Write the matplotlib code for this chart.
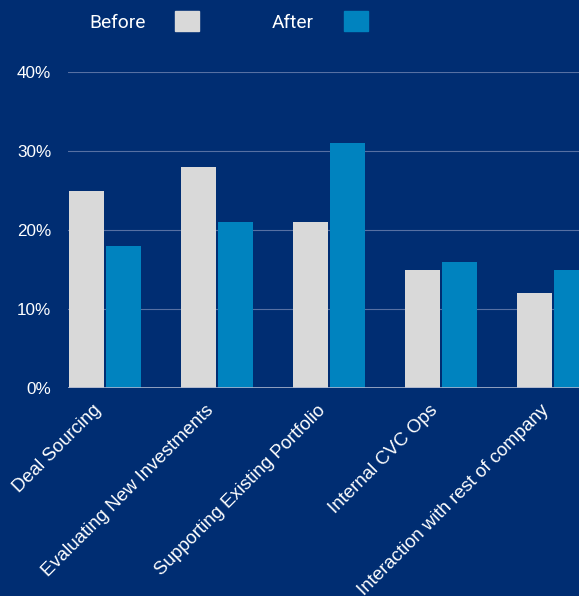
import numpy as np
import matplotlib

matplotlib.use("Agg")
import matplotlib.pyplot as plt
from matplotlib.patches import Patch

categories = ["Deal Sourcing", "Evaluating New Investments", "Supporting Existing Portfolio",
              "Internal CVC Ops", "Interaction with rest of company"]
before = [25, 28, 21, 15, 12]
after = [18, 21, 31, 16, 15]
y_ticks = [0, 10, 20, 30, 40]

bg = "#002D72"
gray = "#D9D9D9"
blue = "#0083BF"

fig = plt.figure(figsize=(5.79, 5.96), dpi=100, facecolor=bg)
# axes run past the right edge of the figure, like the reference
ax = fig.add_axes([68 / 579, 208 / 596, 560 / 579, 316 / 596], facecolor=bg)

x = np.arange(len(categories))
ax.bar(x - 0.49, before, width=0.315, align="edge", color=gray, zorder=3)
ax.bar(x - 0.16, after, width=0.315, align="edge", color=blue, zorder=3)

ax.set_xlim(-0.5, len(categories) - 0.5)
ax.set_ylim(0, 40)
ax.set_yticks(y_ticks)
ax.set_yticklabels([f"{v}%" for v in y_ticks], family="Liberation Sans", fontsize=12.3, color="white")
ax.grid(axis="y", color="#5670A3", linewidth=0.8, zorder=0)
ax.axhline(0, color="#A9B3CC", linewidth=1.2, zorder=4)
for s in ax.spines.values():
    s.set_visible(False)
ax.tick_params(axis="y", length=0, pad=12)
ax.tick_params(axis="x", length=0, pad=10)

ax.set_xticks(x - 0.28)
ax.set_xticklabels(categories, rotation=45, ha="right", rotation_mode="anchor",
                   family="Liberation Sans", fontsize=13.4, color="white")

handles = [Patch(color=gray), Patch(color=blue)]
leg = fig.legend(handles, ["Before", "After"], ncol=2, markerfirst=False, frameon=False,
                 loc="upper left", bbox_to_anchor=(89 / 579, 1 - 11 / 596),
                 prop={"family": "Roboto", "size": 13.8}, handlelength=1.25, handleheight=1.25,
                 handletextpad=1.55, columnspacing=3.8, borderpad=0, borderaxespad=0)
for t in leg.get_texts():
    t.set_color("white")

fig.savefig("out.png", dpi=100, facecolor=bg)
